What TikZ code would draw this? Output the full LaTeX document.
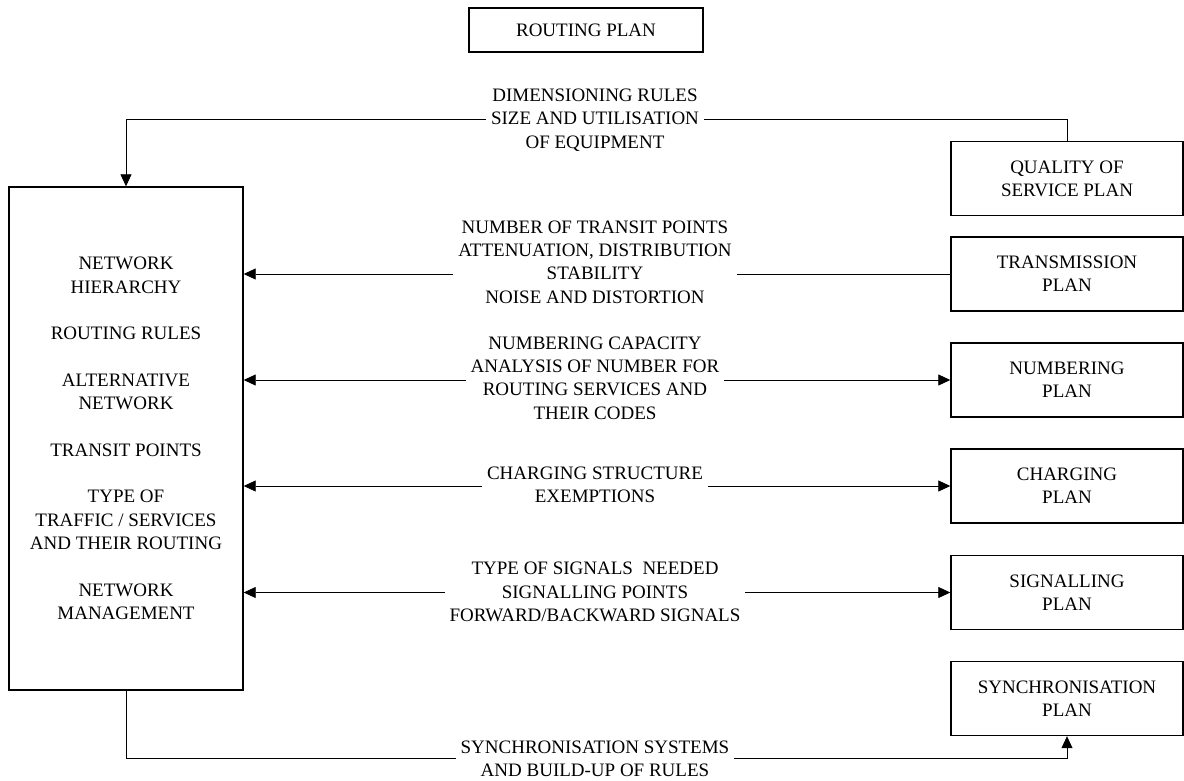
\documentclass[tikz,border=0pt]{standalone}
\usepackage{fontspec}
\setmainfont{Liberation Serif}
\usetikzlibrary{arrows.meta}
\begin{document}
\begin{tikzpicture}[x=1pt,y=-1pt,
  every node/.style={font=\fontsize{19}{23.3}\selectfont, align=center, inner sep=0pt},
  planbox/.style={draw, line width=1.4pt, minimum width=232pt, minimum height=74pt},
  link/.style={line width=0.8pt},
  tip/.style={-{Triangle[length=12pt,width=11pt]}},
  tips/.style={{Triangle[length=12pt,width=11pt]}-{Triangle[length=12pt,width=11pt]}},
  flow/.style={fill=white, inner xsep=5pt, inner ysep=2pt}]
\useasboundingbox (0,0) rectangle (1184,780);

% title box
\node[draw, line width=1.4pt, minimum width=234pt, minimum height=44pt] (routing) at (586,30) {ROUTING PLAN};

% routing plan contents
\node[draw, line width=1.4pt, minimum width=234pt, minimum height=503pt] (left) at (126,438.5)
  {NETWORK\\HIERARCHY\\[23.3pt]ROUTING RULES\\[23.3pt]ALTERNATIVE\\NETWORK\\[23.3pt]TRANSIT POINTS\\[23.3pt]TYPE OF\\TRAFFIC / SERVICES\\AND THEIR ROUTING\\[23.3pt]NETWORK\\MANAGEMENT};

% related plans
\node[planbox] (qos)  at (1067,178.5) {QUALITY OF\\SERVICE PLAN};
\node[planbox] (trans) at (1067,274) {TRANSMISSION\\PLAN};
\node[planbox] (numb) at (1067,380) {NUMBERING\\PLAN};
\node[planbox] (charg) at (1067,486) {CHARGING\\PLAN};
\node[planbox] (sig)  at (1067,592.5) {SIGNALLING\\PLAN};
\node[planbox] (sync) at (1067,698.5) {SYNCHRONISATION\\PLAN};

% connectors
\draw[link,tip] (qos.north) -- ++(0,-21) -| (left.north);
\node[flow] (dimlab) at (595,120) {DIMENSIONING RULES\\SIZE AND UTILISATION\\OF EQUIPMENT};

\draw[link,tip] (trans.west) -- (left.east |- trans.west);
\node[flow] (translab) at (595,262) {NUMBER OF TRANSIT POINTS\\ATTENUATION, DISTRIBUTION\\STABILITY\\NOISE AND DISTORTION};

\draw[link,tips] (left.east |- numb.west) -- (numb.west);
\node[flow] (numblab) at (595,378) {NUMBERING CAPACITY\\ANALYSIS OF NUMBER FOR\\ROUTING SERVICES AND\\THEIR CODES};

\draw[link,tips] (left.east |- charg.west) -- (charg.west);
\node[flow] (charglab) at (595,485) {CHARGING STRUCTURE\\EXEMPTIONS};

\draw[link,tips] (left.east |- sig.west) -- (sig.west);
\node[flow] (siglab) at (595,592) {TYPE OF SIGNALS\ \ NEEDED\\SIGNALLING POINTS\\FORWARD/BACKWARD SIGNALS};

\draw[link,tip] (left.south) -- ++(0,68) -| (sync.south);
\node[flow] (synclab) at (595,758.5) {SYNCHRONISATION SYSTEMS\\AND BUILD-UP OF RULES};
\end{tikzpicture}
\end{document}
